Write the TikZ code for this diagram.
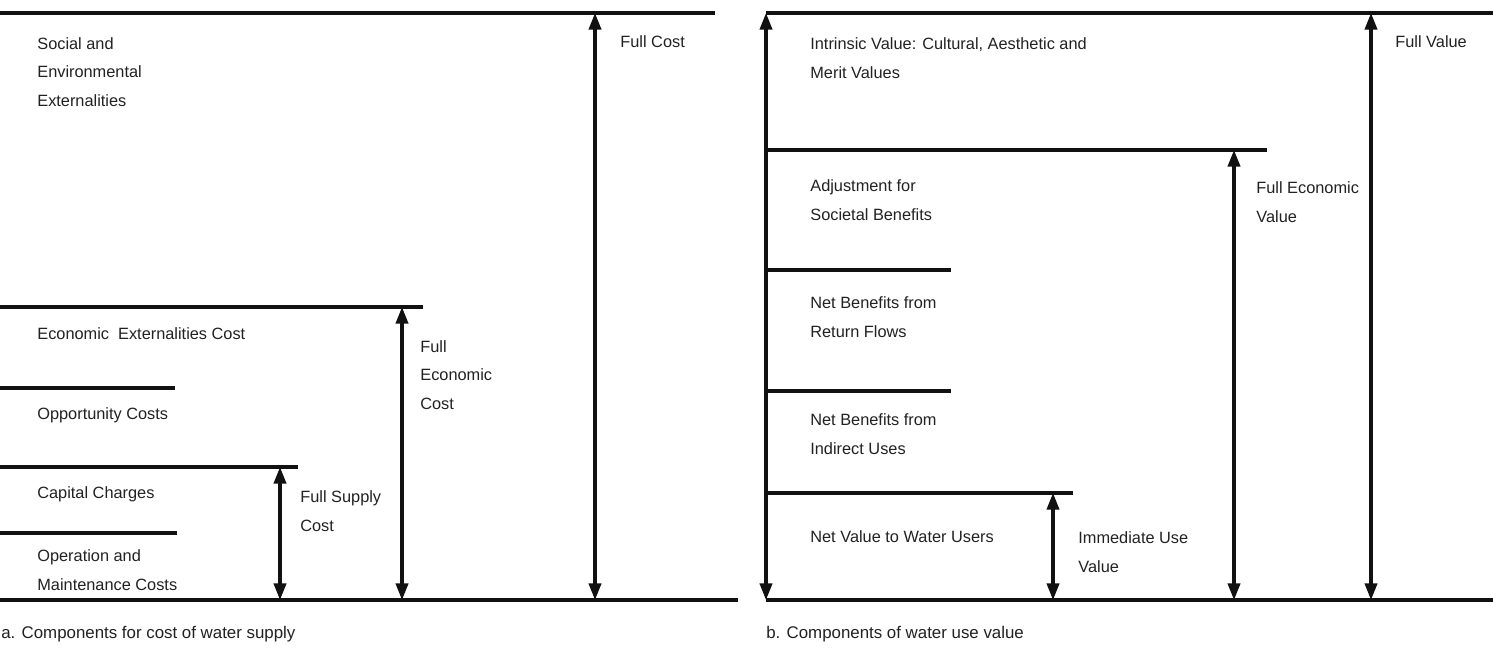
\documentclass[tikz,border=0pt]{standalone}
\usepackage{fontspec}
\setmainfont{Liberation Sans}
\usepackage{tikz}
\usetikzlibrary{arrows.meta}
\definecolor{ink}{HTML}{111111}
\definecolor{txt}{HTML}{222222}
\tikzset{
  rule/.style={draw=ink, line width=1.8pt},
  span/.style={draw=ink, line width=1.8pt, {Triangle[length=9.5pt,width=7pt]}-{Triangle[length=9.5pt,width=7pt]}},
  lbl/.style={anchor=west, align=left, inner sep=0pt, text=txt, font=\fontsize{9.3}{16.4}\selectfont},
  capt/.style={anchor=west, inner sep=0pt, text=txt, font=\fontsize{9.6}{12}\selectfont},
}
\newcommand{\CostCoords}{%
  \coordinate (cTopL) at (0,13);    \coordinate (cTopR) at (715,13);
  \coordinate (cBotL) at (0,600);   \coordinate (cBotR) at (738,600);
  \coordinate (cEcoL) at (0,307);   \coordinate (cEcoR) at (423,307);
  \coordinate (cOppL) at (0,388);   \coordinate (cOppR) at (175,388);
  \coordinate (cCapL) at (0,467);   \coordinate (cCapR) at (298,467);
  \coordinate (cOmL)  at (0,533);   \coordinate (cOmR)  at (177,533);
}
\newcommand{\ValueCoords}{%
  \coordinate (vTopL) at (766,13);  \coordinate (vTopR) at (1493,13);
  \coordinate (vBotL) at (766,600); \coordinate (vBotR) at (1493,600);
  \coordinate (vAdjL) at (766,150); \coordinate (vAdjR) at (1267,150);
  \coordinate (vRetL) at (766,270); \coordinate (vRetR) at (951,270);
  \coordinate (vIndL) at (766,391); \coordinate (vIndR) at (951,391);
  \coordinate (vNetL) at (766,493); \coordinate (vNetR) at (1073,493);
}

\begin{document}
\begin{tikzpicture}[x=0.02cm, y=-0.02cm]
  \useasboundingbox[fill=white] (0,0) rectangle (1493,654);
  \CostCoords
  \ValueCoords

  % a. cost of water supply
  \draw[rule] (cTopL)--(cTopR);
  \draw[rule] (cBotL)--(cBotR);
  \draw[rule] (cEcoL)--(cEcoR);
  \draw[rule] (cOppL)--(cOppR);
  \draw[rule] (cCapL)--(cCapR);
  \draw[rule] (cOmL)--(cOmR);

  \draw[span] (cTopL -| 595,0)--(cBotL -| 595,0);
  \draw[span] (cEcoL -| 402,0)--(cBotL -| 402,0);
  \draw[span] (cCapL -| 280,0)--(cBotL -| 280,0);

  \node[lbl] (social)  at (37,72)  {Social and\\Environmental\\Externalities};
  \node[lbl] (ecoext)  at (37,334) {Economic\ \ Externalities Cost};
  \node[lbl] (opport)  at (37,415) {Opportunity Costs};
  \node[lbl] (capital) at (37,494) {Capital Charges};
  \node[lbl] (opmaint) at (37,570) {Operation and\\Maintenance Costs};

  \node[lbl] (fullcost)  at (620,42)  {Full Cost};
  \node[lbl] (fullecoc)  at (420,375) {Full\\Economic\\Cost};
  \node[lbl] (fullsup)   at (300,511) {Full Supply\\Cost};

  \node[capt] (captA) at (1,634) {a. Components for cost of water supply};

  % b. water use value
  \draw[rule] (vTopL)--(vTopR);
  \draw[rule] (vBotL)--(vBotR);
  \draw[rule] (vAdjL)--(vAdjR);
  \draw[rule] (vRetL)--(vRetR);
  \draw[rule] (vIndL)--(vIndR);
  \draw[rule] (vNetL)--(vNetR);

  \draw[span] (vTopL)--(vBotL);
  \draw[span] (vTopL -| 1371,0)--(vBotL -| 1371,0);
  \draw[span] (vAdjL -| 1234,0)--(vBotL -| 1234,0);
  \draw[span] (vNetL -| 1053,0)--(vBotL -| 1053,0);

  \node[lbl] (intrins) at (810,58)  {Intrinsic Value: Cultural, Aesthetic and\\Merit Values};
  \node[lbl] (adjust)  at (810,200) {Adjustment for\\Societal Benefits};
  \node[lbl] (retflow) at (810,317) {Net Benefits from\\Return Flows};
  \node[lbl] (indir)   at (810,434) {Net Benefits from\\Indirect Uses};
  \node[lbl] (netuser) at (810,537) {Net Value to Water Users};

  \node[lbl] (fullval)  at (1395,42)  {Full Value};
  \node[lbl] (fullecov) at (1256,202) {Full Economic\\Value};
  \node[lbl] (immed)    at (1078,552) {Immediate Use\\Value};

  \node[capt] (captB) at (766,634) {b. Components of water use value};
\end{tikzpicture}
\end{document}
